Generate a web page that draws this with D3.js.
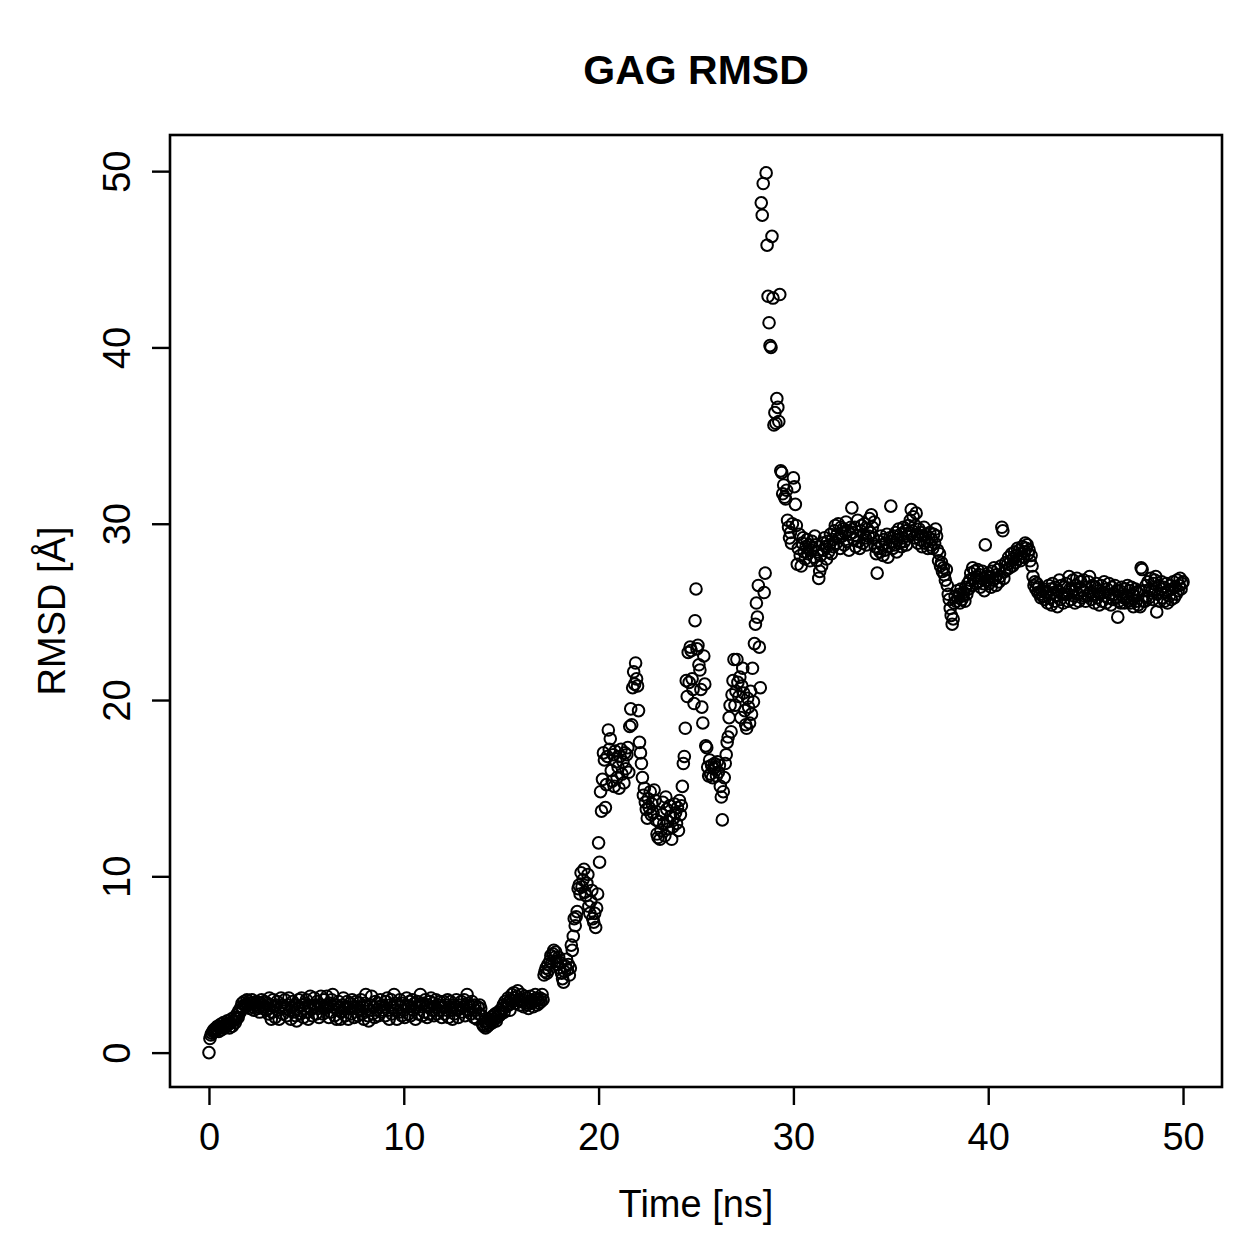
<!DOCTYPE html>
<html>
<head>
<meta charset="utf-8">
<script src="https://cdnjs.cloudflare.com/ajax/libs/d3/7.8.5/d3.min.js"></script>
<style>
    body { margin: 0; background: #fff; }
    svg text { font-family: "Liberation Sans", Arial, Helvetica, sans-serif; fill: #000; }
</style>
</head>
<body>
<svg class="rmsd" width="1259" height="1259"></svg>
<script>
// sampling step of the trajectory (ns) and RMSD values, one row per ns
var timeStep = 0.05;
var rmsd = [
    0.0, 0.8, 1.0, 1.1, 1.2, 1.3, 1.2, 1.4, 1.3, 1.5, 1.2, 1.4, 1.6, 1.3, 1.5, 1.7, 1.4, 1.6, 1.5, 1.8,
    1.6, 1.4, 1.7, 1.9, 1.5, 1.8, 2.0, 1.7, 1.9, 2.2, 2.0, 2.4, 2.3, 2.6, 2.8, 2.5, 2.9, 2.7, 2.6, 3.0,
    2.7, 2.9, 2.5, 2.8, 3.0, 2.6, 2.4, 2.8, 2.7, 2.9, 2.5, 2.6, 2.3, 2.8, 3.0, 2.7, 2.5, 2.9, 2.6, 2.4,
    2.8, 2.2, 3.1, 2.7, 1.9, 2.3, 3.0, 2.6, 2.0, 2.7, 2.9, 2.4, 1.9, 2.6, 3.1, 2.7, 2.2, 2.6, 3.0, 2.5,
    2.1, 2.7, 3.1, 2.4, 1.9, 2.6, 2.9, 2.3, 2.7, 2.1, 1.8, 2.5, 3.0, 2.6, 2.2, 3.1, 2.7, 2.0, 2.5, 2.8,
    3.0, 2.3, 1.9, 2.6, 3.2, 2.5, 2.1, 2.7, 3.1, 2.6, 2.2, 2.9, 2.5, 2.0, 2.7, 3.2, 2.6, 2.2, 3.0, 2.5,
    2.7, 3.2, 2.6, 2.0, 2.8, 2.3, 3.0, 3.3, 2.6, 2.1, 2.7, 1.9, 2.4, 2.9, 2.6, 1.9, 2.3, 2.7, 3.1, 2.5,
    2.1, 2.6, 2.9, 1.9, 2.5, 2.8, 2.2, 3.0, 2.6, 2.0, 2.5, 2.9, 2.6, 2.1, 2.8, 2.4, 3.0, 2.2, 2.6, 1.9,
    2.8, 3.3, 2.6, 2.1, 1.8, 2.4, 2.7, 3.2, 2.2, 2.6, 2.0, 2.9, 2.4, 2.8, 2.1, 2.6, 3.0, 2.3, 2.7, 2.4,
    2.6, 2.1, 2.9, 3.1, 2.4, 1.9, 2.7, 3.0, 2.2, 2.6, 3.3, 2.8, 2.4, 1.9, 2.7, 2.3, 3.0, 2.6, 2.1, 2.8,
    2.4, 2.0, 2.7, 3.1, 2.6, 2.2, 2.9, 2.1, 2.6, 3.0, 2.4, 2.8, 1.9, 2.6, 2.9, 2.2, 2.7, 3.3, 2.6, 2.1,
    2.8, 2.3, 3.0, 2.6, 2.0, 2.7, 2.2, 2.9, 3.1, 2.4, 2.8, 2.1, 2.6, 3.0, 2.2, 2.7, 2.4, 2.9, 2.6, 2.0,
    2.6, 2.9, 2.2, 2.7, 2.4, 3.0, 2.0, 2.6, 2.9, 2.4, 1.9, 2.7, 2.2, 2.6, 3.0, 2.4, 2.0, 2.7, 2.5, 2.9,
    2.3, 2.6, 3.0, 2.1, 2.7, 3.3, 2.8, 2.4, 2.6, 2.2, 2.9, 2.6, 2.0, 2.7, 2.4, 1.9, 2.6, 2.2, 2.7, 2.5,
    2.1, 1.6, 1.5, 1.8, 1.4, 1.7, 1.5, 1.9, 1.6, 1.8, 2.0, 1.7, 2.1, 1.9, 2.2, 1.8, 2.0, 2.3, 2.1, 2.4,
    2.2, 2.5, 2.7, 2.3, 2.9, 2.6, 2.8, 3.1, 2.7, 2.4, 3.0, 3.3, 2.9, 3.4, 3.1, 2.8, 3.2, 3.5, 3.0, 2.7,
    2.9, 3.3, 3.0, 2.6, 3.2, 2.8, 3.1, 2.7, 2.5, 2.9, 3.2, 2.8, 3.0, 2.6, 2.9, 3.3, 3.1, 2.7, 3.0, 2.8,
    3.1, 2.9, 3.3, 3.0, 4.4, 4.6, 4.8, 4.5, 5.0, 4.7, 5.2, 5.5, 5.1, 5.6, 5.8, 5.4, 5.7, 5.2, 5.0, 5.4,
    4.8, 5.1, 4.5, 4.2, 4.0, 4.6, 4.9, 5.3, 4.7, 5.0, 4.4, 4.8, 6.1, 5.8, 6.6, 7.6, 7.2, 7.7, 8.0, 9.3,
    9.5, 9.0, 10.2, 9.4, 9.8, 10.4, 9.1, 8.9, 9.6, 10.1, 8.3, 7.9, 8.6, 9.2, 7.6, 7.4, 7.9, 7.1, 8.2, 9.0,
    11.9, 10.8, 14.8, 13.7, 15.5, 17.0, 16.6, 13.9, 15.2, 16.8, 18.3, 17.2, 17.8, 16.0, 15.4, 16.9, 15.1, 17.1, 16.5, 15.6,
    16.2, 15.0, 16.8, 17.2, 15.8, 16.5, 15.3, 17.0, 16.1, 16.9, 17.3, 15.9, 18.5, 19.5, 18.6, 20.7, 21.6, 20.9, 22.1, 21.2,
    20.8, 19.4, 17.6, 17.0, 16.4, 15.6, 14.6, 15.0, 14.2, 13.8, 13.3, 14.4, 13.9, 14.8, 13.5, 14.1, 13.6, 14.9, 14.3, 13.2,
    12.4, 12.2, 13.1, 12.1, 12.6, 13.5, 14.2, 13.0, 12.3, 14.5, 13.8, 13.1, 12.7, 14.0, 13.4, 12.1, 12.8, 13.3, 14.1, 13.6,
    13.0, 13.9, 12.6, 14.3, 13.5, 14.0, 15.1, 16.4, 16.8, 18.4, 21.1, 20.2, 22.7, 21.0, 23.0, 22.8, 21.2, 20.6, 19.8, 24.5,
    26.3, 22.9, 23.1, 22.0, 21.7, 20.6, 19.6, 18.7, 22.5, 20.9, 17.4, 17.3, 16.2, 15.7, 16.6, 15.8, 16.3, 15.6, 16.1, 16.4,
    16.2, 15.7, 16.5, 15.9, 16.3, 15.1, 14.5, 13.2, 14.8, 15.6, 16.4, 16.9, 17.6, 17.9, 19.0, 19.7, 18.2, 20.3, 21.1, 22.3,
    19.7, 20.5, 22.3, 21.0, 20.2, 21.3, 19.0, 20.8, 21.8, 20.4, 19.4, 18.6, 18.4, 20.1, 19.6, 18.7, 20.5, 19.2, 21.8, 19.9,
    23.2, 24.3, 25.5, 24.7, 26.5, 23.0, 20.7, 48.2, 47.5, 49.3, 26.1, 27.2, 49.9, 45.8, 42.9, 41.4, 40.1, 40.0, 46.3, 42.8,
    35.6, 36.3, 35.7, 37.1, 36.6, 35.8, 43.0, 33.0, 32.9, 31.7, 32.2, 31.5, 31.4, 31.9, 30.2, 29.8, 29.2, 29.5, 28.9, 30.0,
    32.6, 32.1, 31.1, 29.9, 27.7, 28.6, 29.4, 28.2, 27.6, 28.9, 29.2, 28.4, 28.0, 28.7, 29.1, 28.3, 28.8, 27.9, 28.5, 29.0,
    28.6, 28.1, 29.3, 28.8, 27.9, 28.4, 26.9, 27.3, 28.2, 27.6, 28.9, 28.5, 29.2, 28.7, 28.0, 29.0, 28.4, 28.8, 29.4, 28.3,
    29.1, 28.7, 29.6, 29.9, 28.9, 29.4, 30.0, 29.2, 28.6, 29.8, 29.3, 29.7, 28.8, 29.5, 30.1, 29.0, 29.6, 28.5, 29.4, 29.8,
    30.9, 29.5, 29.1, 29.8, 28.7, 29.3, 30.2, 29.0, 28.6, 29.6, 29.9, 28.9, 29.4, 30.0, 29.2, 28.8, 29.7, 29.3, 30.3, 29.5,
    30.5, 29.8, 29.2, 30.1, 28.7, 28.3, 27.2, 28.6, 29.0, 28.4, 29.3, 28.8, 28.2, 29.1, 28.5, 28.9, 29.4, 28.1, 28.7, 29.2,
    31.0, 29.0, 28.6, 29.3, 28.8, 29.5, 28.4, 29.1, 29.7, 28.9, 29.4, 28.7, 29.2, 29.8, 29.0, 29.6, 28.8, 29.3, 29.9, 29.5,
    30.2, 30.8, 29.6, 30.4, 29.2, 29.9, 30.6, 29.4, 28.9, 29.7, 29.1, 29.5, 28.7, 29.3, 29.8, 28.9, 29.4, 29.0, 28.6, 29.2,
    29.5, 28.8, 29.1, 28.6, 29.4, 28.9, 29.7, 29.3, 28.5, 27.9, 28.3, 27.6, 27.8, 27.3, 27.5, 27.1, 26.8, 27.4, 26.5, 26.0,
    25.7, 25.2, 24.8, 24.3, 24.6, 25.5, 25.9, 25.6, 26.2, 25.8, 26.0, 25.5, 26.3, 25.7, 25.9, 26.1, 25.6, 26.4, 26.0, 26.6,
    26.3, 26.8, 27.2, 26.5, 27.5, 26.9, 27.3, 26.6, 27.0, 27.4, 26.7, 27.1, 26.4, 26.9, 27.3, 26.6, 26.2, 28.8, 27.0, 26.8,
    27.2, 26.6, 27.0, 26.4, 27.3, 26.8, 27.5, 26.9, 26.5, 27.1, 27.4, 26.7, 27.0, 27.6, 29.8, 29.6, 26.9, 27.3, 27.8, 27.4,
    27.7, 28.1, 27.5, 27.9, 28.3, 27.6, 28.0, 28.4, 27.8, 28.2, 28.6, 28.0, 28.5, 27.9, 28.3, 28.7, 28.1, 28.4, 28.9, 28.6,
    28.8, 28.3, 28.5, 27.9, 28.2, 27.6, 27.0, 26.5, 26.7, 26.3, 26.6, 26.1, 26.4, 26.0, 25.8, 26.2, 25.9, 26.3, 25.7, 26.1,
    26.1, 25.5, 26.5, 25.8, 26.3, 25.4, 26.6, 26.1, 25.6, 26.4, 25.9, 25.3, 26.2, 26.8, 25.7, 26.5, 26.0, 25.5, 26.4, 26.0,
    26.6, 26.0, 25.6, 27.0, 26.3, 25.7, 26.2, 26.8, 25.9, 25.5, 26.5, 26.9, 26.0, 25.6, 26.4, 26.7, 25.8, 26.2, 26.8, 25.9,
    25.6, 26.4, 25.9, 26.7, 27.0, 26.1, 25.7, 26.5, 26.0, 25.5, 26.4, 26.6, 25.8, 26.2, 25.4, 26.0, 26.5, 25.6, 26.1, 26.7,
    25.9, 25.5, 26.3, 25.8, 26.6, 26.0, 25.4, 26.4, 25.7, 26.0, 26.5, 25.8, 26.2, 24.7, 25.6, 26.2, 25.5, 26.4, 25.9, 25.8,
    25.5, 26.3, 25.8, 26.5, 25.6, 26.2, 25.5, 26.4, 26.0, 25.3, 25.9, 26.3, 25.6, 26.1, 25.4, 26.2, 25.3, 27.5, 27.4, 25.6,
    26.2, 25.6, 26.5, 25.9, 26.7, 25.8, 26.3, 26.9, 26.2, 25.7, 26.6, 26.8, 27.0, 25.0, 26.0, 26.5, 25.6, 26.3, 26.7, 25.8,
    26.4, 25.6, 26.1, 26.6, 25.5, 26.2, 25.9, 26.5, 25.7, 26.3, 26.7, 25.8, 26.4, 26.0, 26.8, 26.2, 26.5, 26.9, 26.3, 26.6,
    26.7
];
var xTicks = [0, 10, 20, 30, 40, 50];
var yTicks = [0, 10, 20, 30, 40, 50];
var title = "GAG RMSD";
var xLabel = "Time [ns]";
var yLabel = "RMSD [Å]";

var rmsdPlot = (function() {

    var svg = d3.select('svg.rmsd');

    var plotLeft = 170,
        plotRight = 1222,
        plotTop = 135,
        plotBottom = 1087,
        tickLen = 18;

    var x = d3.scaleLinear().domain([-2, 52]).range([plotLeft, plotRight]);
    var y = d3.scaleLinear().domain([-1.95, 52.05]).range([plotBottom, plotTop]);

    function drawPoints() {
        var points = rmsd.map(function(v, i) { return { t: i * timeStep, v: v }; });

        svg.selectAll('.pt')
            .data(points)
            .enter()
                .append('circle')
                .attr('class', 'pt')
                .attr('cx', function(d) { return x(d.t); })
                .attr('cy', function(d) { return y(d.v); })
                .attr('r', 5.8)
                .attr('fill', 'none')
                .attr('stroke', '#000')
                .attr('stroke-width', 2);
    }

    function drawAxes() {
        var gx = svg.append('g')
            .attr('transform', 'translate(0,' + plotBottom + ')')
            .call(d3.axisBottom(x).tickValues(xTicks).tickSize(tickLen));
        gx.select('.domain').remove();
        gx.selectAll('.tick line').attr('stroke', '#000').attr('stroke-width', 2.4);
        gx.selectAll('.tick text')
            .attr('font-size', 38)
            .attr('font-family', '"Liberation Sans", Arial, sans-serif')
            .attr('y', 63)
            .attr('dy', 0);

        var gy = svg.append('g')
            .attr('transform', 'translate(' + plotLeft + ',0)')
            .call(d3.axisLeft(y).tickValues(yTicks).tickSize(tickLen));
        gy.select('.domain').remove();
        gy.selectAll('.tick line').attr('stroke', '#000').attr('stroke-width', 2.4);
        gy.selectAll('.tick text')
            .attr('font-size', 38)
            .attr('font-family', '"Liberation Sans", Arial, sans-serif')
            .attr('x', 0)
            .attr('y', 0)
            .attr('dy', 0)
            .attr('text-anchor', 'middle')
            .attr('transform', 'translate(-40,0) rotate(-90)');

        svg.append('rect')
            .attr('x', plotLeft)
            .attr('y', plotTop)
            .attr('width', plotRight - plotLeft)
            .attr('height', plotBottom - plotTop)
            .attr('fill', 'none')
            .attr('stroke', '#000')
            .attr('stroke-width', 2.6);
    }

    function drawLabels() {
        svg.append('text')
            .text(title)
            .attr('x', (plotLeft + plotRight) / 2)
            .attr('y', 84)
            .attr('text-anchor', 'middle')
            .attr('font-size', 41)
            .attr('font-weight', 'bold');

        svg.append('text')
            .text(xLabel)
            .attr('x', (plotLeft + plotRight) / 2)
            .attr('y', 1217)
            .attr('text-anchor', 'middle')
            .attr('font-size', 38);

        svg.append('text')
            .text(yLabel)
            .attr('transform', 'translate(65,' + ((plotTop + plotBottom) / 2) + ') rotate(-90)')
            .attr('text-anchor', 'middle')
            .attr('font-size', 38);
    }

    return {
        draw: function() {
            drawPoints();
            drawAxes();
            drawLabels();
        }
    };
})();

rmsdPlot.draw();
</script>
</body>
</html>
